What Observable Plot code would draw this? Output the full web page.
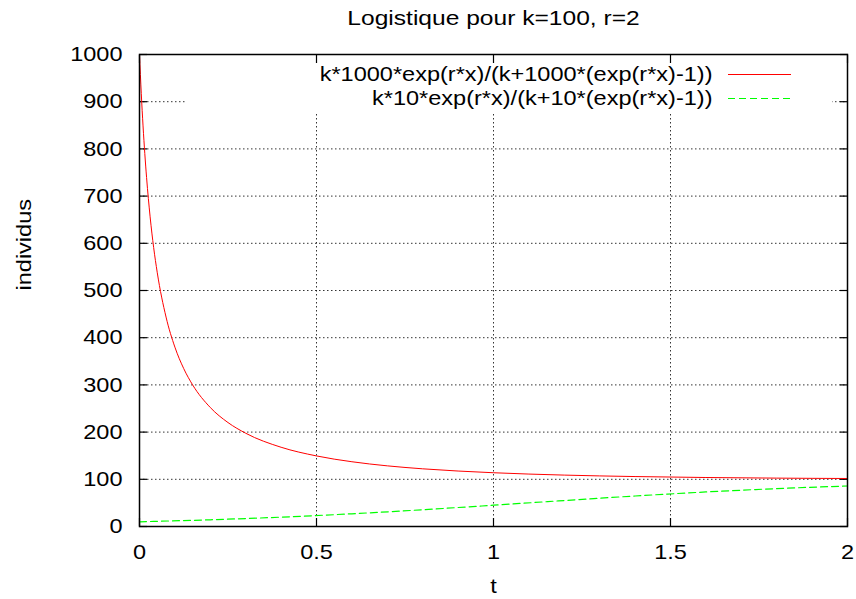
<!DOCTYPE html>
<html>
<head>
<meta charset="utf-8">
<script src="https://cdn.jsdelivr.net/npm/d3@7"></script>
<script src="https://cdn.jsdelivr.net/npm/@observablehq/plot@0.6"></script>
<style>
  html, body { margin: 0; padding: 0; background: #fff; }
  svg { display: block; }
</style>
</head>
<body>
<script>
// ---- data ----
const title = "Logistique pour k=100, r=2";
const xLabel = "t";
const yLabel = "individus";
const seriesNames = [
  "k*1000*exp(r*x)/(k+1000*(exp(r*x)-1))",
  "k*10*exp(r*x)/(k+10*(exp(r*x)-1))"
];
const redT = [0, 0.005, 0.01, 0.015, 0.02, 0.03, 0.04, 0.05, 0.075, 0.1, 0.125, 0.15, 0.2, 0.25, 0.3, 0.4, 0.5, 0.6, 0.7, 0.8, 1.0, 1.2, 1.4, 1.6, 1.8, 2.0];
const redN = [1000, 917.8, 848.7, 789.9, 739.2, 656.1, 591.0, 538.7, 443.7, 380.0, 334.4, 300.1, 252.1, 220.2, 197.6, 167.9, 149.5, 137.2, 128.5, 122.2, 113.9, 108.9, 105.8, 103.8, 102.5, 101.7];
const greenT = [0, 0.2, 0.4, 0.6, 0.8, 1.0, 1.2, 1.4, 1.6, 1.8, 2.0];
const greenN = [10, 14.22, 19.83, 26.95, 35.50, 45.09, 55.05, 64.63, 73.16, 80.26, 85.85];
const xTicks = [0, 0.5, 1, 1.5, 2];
const xTickLabels = ["0", "0.5", "1", "1.5", "2"];
const yTicks = [0, 100, 200, 300, 400, 500, 600, 700, 800, 900, 1000];
const yTickLabels = ["0", "100", "200", "300", "400", "500", "600", "700", "800", "900", "1000"];

// ---- layout ----
const W = 856, H = 599;
const mT = 54, mB = 73, mL = 139, mR = 9;
const xDomain = [0, 2], yDomain = [0, 1000];
const pxX = p => xDomain[0] + (p - mL) / (W - mL - mR) * (xDomain[1] - xDomain[0]);
const pxY = p => yDomain[0] + (H - mB - p) / (H - mT - mB) * (yDomain[1] - yDomain[0]);

const red = redT.map((t, i) => ({t, n: redN[i]}));
const green = greenT.map((t, i) => ({t, n: greenN[i]}));

const font = "'Liberation Sans', Arial, Helvetica, sans-serif";
const gridStyle = {stroke: "#000", strokeOpacity: 0.8, strokeDasharray: "1.5,2.5", strokeWidth: 1};
const RED = "#ff0000", GREEN = "#00ff00", GREEN_DASH = "7,4";

// legend box (gnuplot hides grid behind the key)
const keyBox = [{x1: pxX(185), x2: pxX(832), y1: pxY(112), y2: yDomain[1]}];
const legendRows = [
  {name: seriesNames[0], y: pxY(74)},
  {name: seriesNames[1], y: pxY(98)}
];

const chart = Plot.plot({
  width: W, height: H,
  marginTop: mT, marginBottom: mB, marginLeft: mL, marginRight: mR,
  style: {fontFamily: font, fontSize: "21px", background: "#fff", color: "#000"},
  x: {domain: xDomain, axis: null},
  y: {domain: yDomain, axis: null},
  marks: [
    Plot.gridY(yTicks.filter(v => v > yDomain[0] && v < yDomain[1]), gridStyle),
    Plot.gridX(xTicks.filter(v => v > xDomain[0] && v < xDomain[1]), gridStyle),
    Plot.rect(keyBox, {x1: "x1", x2: "x2", y1: "y1", y2: "y2", fill: "#fff"}),
    // axes with inward ticks
    Plot.axisX(xTicks, {anchor: "bottom", tickSize: -8, tickPadding: 26, tickFormat: d => xTickLabels[xTicks.indexOf(d)], fontSize: 21, label: null, strokeWidth: 1.2}),
    Plot.axisX(xTicks, {anchor: "top", tickSize: -8, tickFormat: () => "", label: null, strokeWidth: 1.2}),
    Plot.axisY(yTicks, {anchor: "left", tickSize: -8, tickPadding: 25, tickFormat: d => yTickLabels[yTicks.indexOf(d)], fontSize: 21, label: null, strokeWidth: 1.2}),
    Plot.axisY(yTicks, {anchor: "right", tickSize: -8, tickFormat: () => "", label: null, strokeWidth: 1.2}),
    // curves
    Plot.line(red, {x: "t", y: "n", stroke: RED, strokeWidth: 1, curve: "monotone-x"}),
    Plot.line(green, {x: "t", y: "n", stroke: GREEN, strokeWidth: 1.2, strokeDasharray: GREEN_DASH, curve: "monotone-x"}),
    // legend
    Plot.text(legendRows, {x: pxX(712), y: "y", text: "name", textAnchor: "end", lineAnchor: "middle", fontSize: 21, fill: "#000"}),
    Plot.ruleY([legendRows[0]], {y: "y", x1: pxX(728), x2: pxX(791), stroke: RED, strokeWidth: 1}),
    Plot.ruleY([legendRows[1]], {y: "y", x1: pxX(728), x2: pxX(791), stroke: GREEN, strokeWidth: 1.2, strokeDasharray: GREEN_DASH}),
    // titles
    Plot.text([title], {frameAnchor: "top", dy: -36, lineAnchor: "middle", fontSize: 21, fill: "#000"}),
    Plot.text([xLabel], {frameAnchor: "bottom", dy: 60, lineAnchor: "middle", fontSize: 21, fill: "#000"}),
    Plot.text([yLabel], {frameAnchor: "left", dx: -115, rotate: -90, lineAnchor: "middle", fontSize: 21, fill: "#000"}),
    Plot.frame({stroke: "#000", strokeWidth: 1.5})
  ]
});
document.body.appendChild(chart);

// the reference font is rendered horizontally wider than Arial: stretch each text
chart.querySelectorAll("text").forEach(t => {
  if (t.querySelector("tspan")) return;
  const len = t.getComputedTextLength();
  if (!(len > 0)) return;
  const f = t.textContent.startsWith("Logistique") ? 1.17 : 1.12;
  t.setAttribute("textLength", (len * f).toFixed(2));
  t.setAttribute("lengthAdjust", "spacingAndGlyphs");
});
</script>
</body>
</html>
